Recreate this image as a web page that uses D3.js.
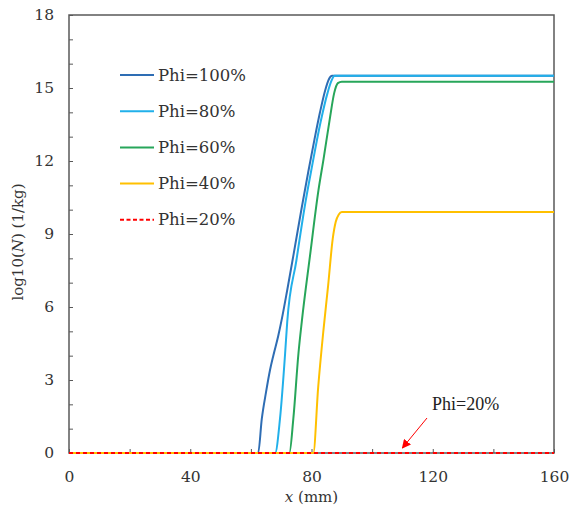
<!DOCTYPE html>
<html>
<head>
<meta charset="utf-8">
<script src="https://cdn.jsdelivr.net/npm/d3@7"></script>
<style>
  html, body { margin: 0; padding: 0; background: #fff; }
  svg { display: block; }
</style>
</head>
<body>
<svg id="chart" width="571" height="509"></svg>
<script>
// ---- data ----
const seriesNames = ["Phi=100%", "Phi=80%", "Phi=60%", "Phi=40%", "Phi=20%"];
const seriesColors = ["#2e6db4", "#21b0ea", "#27a65a", "#ffc000", "#ff0000"];

const phi100X = [0, 62.4, 63.6, 65.0, 66.3, 67.4, 69.0, 70.2, 72.0, 74.0, 76.8, 79.0, 81.0, 82.8, 84.5, 85.7, 86.8, 100, 160];
const phi100Y = [0, 0, 1.4, 2.5, 3.4, 4.0, 4.8, 5.5, 6.7, 8.1, 10.1, 11.6, 12.9, 14.0, 14.9, 15.35, 15.5, 15.5, 15.5];

const phi80X = [0, 68.0, 69.6, 71.3, 72.0, 75.0, 78.0, 80.2, 83.0, 85.3, 86.6, 87.6, 100, 160];
const phi80Y = [0, 0, 1.4, 4.1, 5.4, 7.9, 10.3, 11.8, 13.6, 14.8, 15.3, 15.5, 15.5, 15.5];

const phi60X = [0, 72.7, 74.0, 75.7, 76.8, 79.5, 82.3, 84.0, 86.0, 87.5, 88.7, 90.0, 160];
const phi60Y = [0, 0, 1.4, 4.1, 5.4, 8.1, 10.8, 12.1, 13.7, 14.8, 15.2, 15.26, 15.26];

const phi40X = [0, 80.6, 82.2, 83.9, 85.5, 87.0, 88.0, 89.0, 90.0, 160];
const phi40Y = [0, 0, 2.7, 5.0, 6.9, 8.8, 9.5, 9.8, 9.9, 9.9];

const phi20X = [0, 40, 80, 120, 160];
const phi20Y = [0, 0, 0, 0, 0];

const xTickValues = [0, 20, 40, 60, 80, 100, 120, 140, 160];
const xTickLabels = ["0", "", "40", "", "80", "", "120", "", "160"];
const yTickValues = [0,1,2,3,4,5,6,7,8,9,10,11,12,13,14,15,16,17,18];
const yTickLabels = ["0","","","3","","","6","","","9","","","12","","","15","","","18"];

const xTitle = "x";
const xTitleUnit = " (mm)";
const annotationText = "Phi=20%";
const annotationTarget = [108, 0];

// ---- layout ----
const margin = { left: 69, right: 17, top: 15, bottom: 56 };
const W = 571, H = 509;
const svg = d3.select("#chart");
const x = d3.scaleLinear().domain([0, 160]).range([margin.left, W - margin.right]);
const y = d3.scaleLinear().domain([0, 18]).range([H - margin.bottom, margin.top]);

const frameColor = "#595959";
const textColor = "#333";
const serif = "'DejaVu Serif', serif";

// frame
svg.append("rect")
  .attr("x", x(0)).attr("y", y(18))
  .attr("width", x(160) - x(0)).attr("height", y(0) - y(18))
  .attr("fill", "none").attr("stroke", frameColor).attr("stroke-width", 1.5);

// x axis
const xAxis = d3.axisBottom(x)
  .tickValues(xTickValues)
  .tickFormat((d, i) => xTickLabels[i])
  .tickSizeInner(-4).tickSizeOuter(0).tickPadding(18);
const gx = svg.append("g").attr("transform", `translate(0,${y(0)})`).call(xAxis);
gx.select(".domain").remove();
gx.selectAll(".tick line").attr("stroke", frameColor).attr("stroke-width", 1);
gx.selectAll(".tick text").attr("font-family", serif).attr("font-size", 15.5).attr("fill", textColor);

// y axis
const yAxis = d3.axisLeft(y)
  .tickValues(yTickValues)
  .tickFormat((d, i) => yTickLabels[i])
  .tickSizeInner(-4).tickSizeOuter(0).tickPadding(15);
const gy = svg.append("g").attr("transform", `translate(${x(0)},0)`).call(yAxis);
gy.select(".domain").remove();
gy.selectAll(".tick line").attr("stroke", frameColor).attr("stroke-width", 1);
gy.selectAll(".tick text").attr("font-family", serif).attr("font-size", 15.5).attr("fill", textColor);

// axis titles
const xt = svg.append("text")
  .attr("x", (x(0) + x(160)) / 2).attr("y", 502)
  .attr("text-anchor", "middle")
  .attr("font-family", serif).attr("font-size", 15).attr("fill", textColor);
xt.append("tspan").attr("font-style", "italic").text(xTitle);
xt.append("tspan").text(xTitleUnit);

const yt = svg.append("text")
  .attr("transform", `translate(23,${(y(0) + y(18)) / 2 + 8}) rotate(-90)`)
  .attr("text-anchor", "middle")
  .attr("font-family", serif).attr("font-size", 15).attr("fill", textColor);
yt.append("tspan").text("log10(");
yt.append("tspan").attr("font-style", "italic").text("N");
yt.append("tspan").text(") (1/kg)");

// lines
const allX = [phi100X, phi80X, phi60X, phi40X, phi20X];
const allY = [phi100Y, phi80Y, phi60Y, phi40Y, phi20Y];
const line = d3.line().x(d => x(d[0])).y(d => y(d[1])).curve(d3.curveMonotoneX);

allX.forEach((xs, i) => {
  const pts = xs.map((v, j) => [v, allY[i][j]]);
  svg.append("path")
    .datum(pts)
    .attr("d", line)
    .attr("fill", "none")
    .attr("stroke", seriesColors[i])
    .attr("stroke-width", i === 4 ? 1.8 : 2)
    .attr("stroke-dasharray", i === 4 ? "4,3" : null)
    .attr("stroke-linejoin", "round");
});

// legend
const legend = svg.append("g");
seriesNames.forEach((name, i) => {
  const ly = 75 + i * 36.2;
  legend.append("line")
    .attr("x1", 120).attr("x2", 154).attr("y1", ly).attr("y2", ly)
    .attr("stroke", seriesColors[i]).attr("stroke-width", 2)
    .attr("stroke-dasharray", i === 4 ? "4,2.5" : null);
  legend.append("text")
    .attr("x", 158).attr("y", ly + 5.5)
    .attr("font-family", serif).attr("font-size", 16.5).attr("fill", textColor)
    .text(name);
});

// annotation
svg.append("defs").append("marker")
  .attr("id", "arrow").attr("viewBox", "0 0 10 10")
  .attr("refX", 9).attr("refY", 5)
  .attr("markerWidth", 9).attr("markerHeight", 9)
  .attr("markerUnits", "userSpaceOnUse")
  .attr("orient", "auto")
  .append("path").attr("d", "M0,0 L10,5 L0,10 Z").attr("fill", "#ff0000");

svg.append("line")
  .attr("x1", 427).attr("y1", 418)
  .attr("x2", x(annotationTarget[0]) + 6).attr("y2", y(annotationTarget[1]) - 5)
  .attr("stroke", "#ff0000").attr("stroke-width", 1)
  .attr("marker-end", "url(#arrow)");

svg.append("text")
  .attr("x", 432).attr("y", 410)
  .attr("font-family", "'Liberation Serif', 'Times New Roman', serif")
  .attr("font-size", 18).attr("fill", "#222")
  .text(annotationText);
</script>
</body>
</html>
